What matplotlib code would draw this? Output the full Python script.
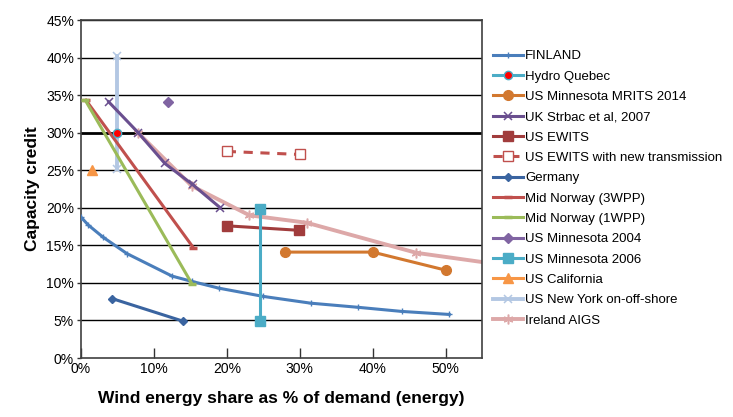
import matplotlib
matplotlib.use("Agg")
import matplotlib.pyplot as plt
from matplotlib.ticker import FuncFormatter, MultipleLocator

plt.rcParams['font.family'] = ['Liberation Sans', 'DejaVu Sans']

# ---- data (percent) ----
finland_x = [0, 1, 3, 6.3, 12.5, 15.2, 18.9, 25, 31.5, 38, 44, 50.5]
finland_y = [18.75, 17.7, 16.1, 13.9, 10.9, 10.2, 9.3, 8.2, 7.3, 6.75, 6.2, 5.8]
hydro_x = [5.0]
hydro_y = [30.0]
mrits_x = [28, 40, 50]
mrits_y = [14.1, 14.1, 11.7]
uk_x = [3.8, 7.85, 11.5, 15.3, 19.1]
uk_y = [34.1, 30.0, 25.9, 23.1, 20.0]
ewits_x = [20, 29.9]
ewits_y = [17.6, 17.0]
ewits_new_x = [20, 30]
ewits_new_y = [27.5, 27.1]
germany_x = [4.3, 14.0]
germany_y = [7.9, 4.9]
norway3_x = [0.7, 15.4]
norway3_y = [34.3, 14.7]
norway1_x = [0.6, 15.2]
norway1_y = [34.3, 9.9]
minn2004_x = [12.0]
minn2004_y = [34.1]
minn2006_x = [24.6, 24.6]
minn2006_y = [19.9, 4.9]
calif_x = [1.5]
calif_y = [25.0]
ny_x = [5.0, 5.0]
ny_y = [40.2, 25.1]
ireland_x = [7.8, 15.2, 23.1, 31.0, 46.0, 60.0]
ireland_y = [30.0, 22.9, 19.0, 18.0, 14.0, 12.1]

fig = plt.figure(figsize=(7.33, 4.17), dpi=100)
ax = fig.add_axes([81/733, 1-358/417, (482-81)/733, (358-20)/417])

# gridlines
for g in range(5, 46, 5):
    ax.axhline(g, color='black', lw=2.0 if g == 30 else 1.0, zorder=1)

lw = 2.2
ax.plot(finland_x, finland_y, color='#4A7EBB', lw=lw, marker='+', ms=5, mew=1.0, label='FINLAND', zorder=3)
ax.plot(hydro_x, hydro_y, color='#4BACC6', lw=lw, marker='o', ms=6, mfc='red', mec='#4BACC6', label='Hydro Quebec', zorder=4)
ax.plot(mrits_x, mrits_y, color='#D2782F', lw=lw, marker='o', ms=7, label='US Minnesota MRITS 2014', zorder=3)
ax.plot(uk_x, uk_y, color='#6A4F8F', lw=lw, marker='x', ms=6, mew=1.1, label='UK Strbac et al, 2007', zorder=3)
ax.plot(ewits_x, ewits_y, color='#A13C3C', lw=lw, marker='s', ms=6.5, label='US EWITS', zorder=3)
ax.plot(ewits_new_x, ewits_new_y, color='#C0504D', lw=lw, ls=(0, (3, 2.5)), marker='s', ms=6.5, mfc='white', mec='#C0504D', mew=1.0, label='US EWITS with new transmission', zorder=3)
ax.plot(germany_x, germany_y, color='#3A64A0', lw=lw, marker='D', ms=4.5, label='Germany', zorder=3)
ax.plot(norway3_x, norway3_y, color='#C0504D', lw=lw, marker='_', ms=6, mew=2.5, label='Mid Norway (3WPP)', zorder=3)
ax.plot(norway1_x, norway1_y, color='#9BBB59', lw=lw, marker='_', ms=6, mew=2.5, label='Mid Norway (1WPP)', zorder=3)
ax.plot(minn2004_x, minn2004_y, color='#8064A2', lw=lw, marker='D', ms=5.5, label='US Minnesota 2004', zorder=3)
ax.plot(minn2006_x, minn2006_y, color='#4BACC6', lw=lw, marker='s', ms=6.5, label='US Minnesota 2006', zorder=3)
ax.plot(calif_x, calif_y, color='#F79646', lw=lw, marker='^', ms=7, label='US California', zorder=3)
ax.plot(ny_x, ny_y, color='#B3C7E3', lw=lw + 0.6, marker='x', ms=6, mew=1.1, label='US New York on-off-shore', zorder=2)
ax.plot(ireland_x, ireland_y, color='#DDA8A8', lw=lw + 0.6, marker=(6, 2, 0), ms=7, mew=1.1, label='Ireland AIGS', zorder=2)

ax.set_xlim(0, 55)
ax.set_ylim(0, 45)
ax.xaxis.set_major_locator(MultipleLocator(10))
ax.yaxis.set_major_locator(MultipleLocator(5))
pct = FuncFormatter(lambda v, p: f"{v:.0f}%")
ax.xaxis.set_major_formatter(pct)
ax.yaxis.set_major_formatter(pct)
ax.tick_params(axis='x', direction='in', length=7, width=1, labelsize=10, pad=3, colors='#333333', labelcolor='black')
ax.tick_params(axis='y', direction='out', length=3, width=1, labelsize=10, pad=2, colors='#333333', labelcolor='black')
for s in ax.spines.values():
    s.set_color('#404040')
    s.set_linewidth(1.2)

ax.set_xlabel('Wind energy share as % of demand (energy)', fontsize=12.5, fontweight='bold', labelpad=11)
ax.set_ylabel('Capacity credit', fontsize=12.5, fontweight='bold', labelpad=4)

leg = ax.legend(loc='upper left', bbox_to_anchor=(493/733, 1-50/417), bbox_transform=fig.transFigure,
                frameon=False, fontsize=9.5, handlelength=2.3, handletextpad=0.12,
                labelspacing=0.615, borderaxespad=0, borderpad=0)

fig.savefig('out.png', dpi=100)
